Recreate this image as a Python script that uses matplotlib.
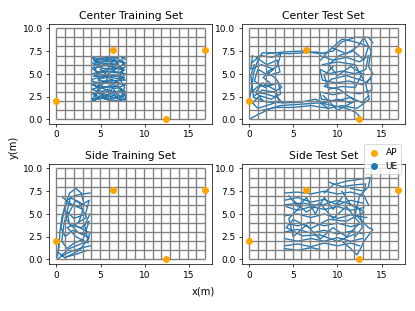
import numpy as np
import matplotlib
matplotlib.use('Agg')
import matplotlib.pyplot as plt

# access points
ap_x = [0.0, 6.4, 12.4, 16.8]
ap_y = [2.0, 7.6, 0.0, 7.6]

# floor grid
grid_x = np.linspace(0, 16.8, 18)
grid_y = np.arange(0, 11)

# UE trajectories (waypoints)
center_train = [
    [(4.0, 2.2), (5.5, 2.6), (7.0, 2.3), (7.8, 2.8), (6.5, 3.1), (5.0, 2.9), (4.0, 3.3), (5.2, 3.6),
     (6.8, 3.4), (7.8, 3.8), (6.0, 4.1), (4.3, 3.9), (4.0, 4.4), (5.5, 4.7), (7.2, 4.4), (7.8, 5.0),
     (6.3, 5.3), (4.8, 5.1), (4.0, 5.6), (5.4, 5.9), (7.0, 5.7), (7.8, 6.2), (6.2, 6.5), (4.6, 6.3),
     (4.0, 6.8), (5.5, 6.6), (7.2, 6.9), (7.8, 6.6)],
    [(4.2, 6.5), (5.5, 5.0), (6.5, 6.6), (7.5, 5.2), (6.8, 4.0), (7.6, 2.6), (6.0, 2.1), (4.5, 3.0),
     (5.8, 4.5), (4.3, 5.4), (5.0, 6.2), (6.6, 6.0), (7.7, 6.8)],
    [(4.0, 2.0), (5.0, 2.4), (6.2, 2.0), (7.8, 2.2), (7.0, 2.7), (5.8, 3.3), (4.2, 2.7), (4.8, 2.2),
     (6.0, 2.8), (7.5, 3.2), (6.5, 3.8), (5.0, 3.4), (4.0, 3.8), (5.6, 4.2), (7.8, 4.3), (6.8, 4.9),
     (5.2, 4.5), (4.1, 5.0), (5.8, 5.5), (7.6, 5.6), (6.5, 6.1), (4.8, 5.8), (4.1, 6.2)],
    [(4.1, 2.3), (4.9, 3.2), (5.6, 2.3), (6.4, 3.5), (7.2, 2.1), (7.7, 3.5), (7.0, 4.7), (7.8, 5.9),
     (6.9, 6.7), (5.9, 6.8), (4.9, 6.7), (4.2, 6.0), (5.0, 4.0), (4.4, 2.5)],
    [(4.0, 2.1), (6.0, 2.5), (7.8, 2.1), (7.8, 2.6), (5.5, 2.2), (4.1, 2.8), (5.9, 3.0), (7.8, 3.0),
     (7.0, 3.6), (4.5, 3.5), (4.2, 4.1), (6.3, 3.9), (7.7, 4.6), (5.8, 4.8), (4.2, 4.7), (5.0, 5.3),
     (7.0, 5.1), (7.7, 5.4), (6.0, 5.8), (4.3, 6.4), (6.0, 6.3), (7.6, 6.4)],
    [(4.3, 2.0), (5.2, 2.8), (6.6, 2.6), (7.4, 2.0), (6.2, 3.0), (4.6, 3.7), (6.2, 4.4), (7.3, 3.9),
     (4.7, 4.3), (6.7, 5.5), (5.2, 5.6), (4.4, 6.6), (6.8, 6.5)],
]

center_test = [
    [(0.2, 0.1), (1.2, 0.6), (2.5, 1.2), (3.5, 1.5), (5.0, 1.6), (6.5, 1.7), (8.0, 1.8), (9.5, 1.5),
     (11.0, 1.2), (12.0, 0.8), (12.5, 0.3)],
    [(0.0, 2.0), (0.3, 3.5), (0.5, 5.0), (1.0, 6.5), (1.5, 7.3), (3.0, 7.3), (4.5, 7.2), (6.0, 7.3),
     (7.5, 7.4), (8.5, 7.2)],
    [(0.8, 6.8), (2.0, 6.0), (3.2, 6.5), (3.5, 5.2), (2.2, 4.8), (1.0, 5.5), (0.6, 4.2), (1.8, 3.5),
     (3.3, 4.0), (3.6, 2.8), (2.5, 2.2), (1.2, 2.6), (0.4, 1.8), (1.0, 1.2), (2.3, 1.6), (3.4, 2.0),
     (3.0, 3.2), (1.5, 4.0), (0.8, 3.0), (1.6, 2.0)],
    [(0.3, 6.2), (1.3, 7.0), (2.6, 6.8), (3.6, 7.2), (3.2, 5.8), (2.0, 5.2), (3.0, 4.5), (3.7, 3.5),
     (2.8, 3.0), (1.5, 3.2), (0.5, 2.5), (0.2, 4.8), (0.6, 6.0)],
    [(0.5, 2.4), (2.0, 1.9), (4.0, 1.8), (6.0, 1.9), (7.5, 2.2), (8.5, 1.8), (10.0, 2.2), (11.5, 1.8)],
    [(1.5, 1.0), (3.0, 1.3), (5.0, 1.3), (7.0, 1.5), (9.0, 1.2)],
    [(2.0, 7.2), (4.0, 7.4), (6.0, 7.5), (8.0, 7.2), (9.5, 7.5), (10.5, 8.5), (12.0, 9.0), (13.5, 9.0),
     (14.0, 8.4)],
    [(8.0, 7.0), (9.5, 6.5), (11.0, 6.8), (12.5, 6.3), (13.5, 7.0), (13.2, 5.5), (12.0, 5.0), (10.5, 5.3),
     (9.0, 5.0), (8.0, 5.5), (8.3, 4.3), (9.8, 4.0), (11.3, 4.2), (12.8, 3.8), (13.8, 4.5), (13.9, 3.2),
     (12.5, 2.8), (11.0, 3.0), (9.5, 2.7), (8.0, 3.0), (8.2, 2.2), (9.8, 2.0), (11.5, 2.4), (12.8, 1.8),
     (13.5, 2.6)],
    [(8.1, 6.5), (9.0, 7.5), (10.5, 8.8), (12.0, 8.5), (13.5, 8.0), (13.0, 6.5), (11.8, 7.5), (10.2, 7.0),
     (9.0, 6.0), (10.0, 4.8), (11.5, 5.8), (12.8, 5.0), (12.0, 3.5), (10.5, 3.6), (9.0, 3.3), (8.5, 4.8),
     (9.5, 5.8)],
    [(9.5, 7.8), (11.0, 7.2), (12.3, 8.0), (13.0, 9.0), (13.8, 7.5), (13.5, 5.8), (14.0, 5.0), (13.2, 3.8),
     (13.6, 2.2), (12.2, 1.2), (10.5, 1.5), (9.0, 1.2), (8.0, 1.8)],
    [(0.4, 7.0), (0.2, 5.5), (1.4, 6.0), (2.8, 5.5), (1.6, 4.6), (2.6, 3.8), (1.0, 3.6), (0.3, 3.0),
     (1.8, 2.8), (3.2, 2.4), (3.8, 1.8)],
    [(8.3, 6.0), (10.0, 6.3), (12.0, 6.0), (13.0, 4.2), (11.0, 4.8), (9.3, 4.4), (8.5, 3.6), (10.2, 3.3),
     (12.0, 2.0), (10.0, 1.0), (8.4, 2.6)],
]

side_train = [
    [(0.2, 0.1), (1.0, 0.6), (2.0, 1.0), (3.0, 1.3), (3.8, 1.5)],
    [(0.1, 0.3), (0.3, 1.5), (0.4, 3.0), (0.6, 4.5), (1.0, 6.0), (1.5, 7.3), (2.2, 7.8), (2.8, 7.3),
     (3.0, 6.5)],
    [(0.5, 0.4), (1.5, 1.2), (2.5, 1.6), (3.5, 2.0), (3.8, 3.0), (2.8, 2.8), (1.8, 3.2), (1.0, 2.5),
     (0.5, 3.5), (0.8, 5.0), (1.2, 6.5), (2.0, 7.0), (3.0, 7.2), (3.8, 7.3)],
    [(1.0, 6.2), (2.5, 5.8), (3.7, 6.5), (3.3, 5.0), (2.0, 4.5), (1.2, 5.2), (1.5, 3.8), (2.8, 3.5),
     (3.7, 4.2), (3.0, 2.2), (2.0, 1.8), (1.2, 1.2), (0.6, 2.0), (0.9, 4.2), (2.2, 6.5), (3.5, 5.8)],
    [(0.7, 6.8), (1.8, 6.0), (3.0, 5.5), (2.5, 4.0), (1.2, 3.5), (2.2, 2.5), (3.6, 1.8), (3.2, 3.8),
     (3.8, 5.0)],
    [(0.3, 2.0), (0.2, 0.8), (0.9, 0.2), (2.3, 0.6), (3.5, 1.0)],
    [(1.2, 0.3), (2.6, 1.0), (3.7, 2.4), (2.4, 3.0), (1.0, 4.5), (1.6, 6.8), (2.6, 6.2), (3.4, 4.6),
     (2.0, 3.8), (3.6, 3.0)],
]

side_test = [
    [(4.0, 7.3), (5.5, 7.4), (7.0, 7.2), (8.5, 7.5), (10.0, 7.2), (11.5, 7.4), (13.0, 7.0), (13.5, 6.0)],
    [(4.0, 6.5), (5.5, 6.8), (7.0, 6.3), (8.5, 6.6), (10.0, 6.0), (11.5, 6.5), (12.8, 6.2)],
    [(13.0, 5.7), (11.5, 5.4), (10.0, 5.8), (8.5, 5.5), (7.0, 5.8), (5.5, 5.4), (4.2, 5.8)],
    [(4.0, 4.8), (5.5, 5.0), (7.0, 4.6), (8.5, 5.0), (10.0, 4.5), (11.5, 4.9), (13.3, 4.6)],
    [(13.0, 4.0), (11.5, 3.6), (10.0, 4.0), (8.5, 3.7), (7.0, 4.1), (5.5, 3.7), (4.0, 4.0)],
    [(4.0, 3.0), (5.5, 3.3), (7.0, 2.9), (8.5, 3.2), (10.0, 2.8), (11.5, 3.1), (13.0, 2.8)],
    [(12.8, 2.3), (11.5, 2.0), (10.0, 2.4), (8.5, 2.0), (7.0, 2.3), (5.5, 2.0), (4.0, 2.3)],
    [(4.0, 1.5), (5.5, 1.7), (7.0, 1.4), (8.5, 1.8), (10.0, 1.5), (11.5, 1.8), (12.5, 1.5)],
    [(4.0, 1.2), (5.5, 1.0), (7.0, 1.3), (8.0, 1.1)],
    [(8.5, 7.3), (9.5, 8.2), (11.0, 8.6), (12.5, 8.8), (13.7, 9.0), (13.5, 8.0), (12.5, 7.0), (12.0, 5.0),
     (13.5, 3.5), (14.0, 3.3), (13.0, 2.0), (12.5, 1.0), (12.2, 0.5), (11.5, 1.2), (10.5, 2.0)],
    [(9.0, 8.5), (10.5, 8.0), (12.0, 8.2), (13.2, 8.3), (13.0, 7.5), (11.5, 7.8)],
    [(5.0, 6.5), (6.5, 5.2), (8.0, 6.2), (9.5, 4.5), (11.0, 5.8), (12.5, 4.0), (11.0, 2.5), (9.5, 3.5),
     (8.0, 2.2), (6.5, 3.8), (5.0, 2.5), (4.5, 4.5), (6.0, 6.0)],
    [(10.5, 7.5), (11.5, 6.0), (12.5, 5.5), (12.8, 3.5), (12.0, 2.5)],
    [(4.5, 7.0), (5.5, 5.8), (6.5, 6.8), (7.5, 5.0), (8.5, 6.8), (9.5, 5.5), (10.5, 6.8)],
    [(4.0, 6.0), (6.0, 6.2), (8.0, 5.9), (10.0, 6.5), (12.0, 5.9), (13.0, 5.2), (11.0, 4.2), (9.0, 4.4),
     (7.0, 3.4), (5.0, 4.4), (4.2, 3.5), (6.0, 2.6), (8.0, 2.7), (10.0, 2.0), (12.0, 2.8)],
]

titles = ['Center Training Set', 'Center Test Set', 'Side Training Set', 'Side Test Set']
sets = [center_train, center_test, side_train, side_test]

fig, axes = plt.subplots(2, 2, figsize=(6.4, 4.8), dpi=64.85)
fig.subplots_adjust(left=0.118, right=0.976, bottom=0.151, top=0.923, wspace=0.178, hspace=0.4)

for ax, title, trajs in zip(axes.flat, titles, sets):
    for tr in trajs:
        xs = [p[0] for p in tr]
        ys = [p[1] for p in tr]
        ax.plot(xs, ys, color='tab:blue', lw=1.5, zorder=1)
    ax.vlines(grid_x, 0, 10, color='gray', lw=1.5, zorder=2)
    ax.hlines(grid_y, 0, 16.8, color='gray', lw=1.5, zorder=2)
    ap = ax.scatter(ap_x, ap_y, color='orange', s=45, zorder=3, label='AP')
    ue = ax.scatter([], [], color='tab:blue', s=45, label='UE')
    ax.set_title(title)
    ax.set_xlim(-0.84, 17.64)
    ax.set_ylim(-0.5, 10.5)
    ax.set_xticks([0, 5, 10, 15])

fig.legend(handles=[ap, ue], loc='upper right', bbox_to_anchor=(0.978, 0.55), fontsize=10,
           handlelength=1.4, handletextpad=0.6, borderpad=0.4, labelspacing=0.5)
fig.text(0.489, 0.064, 'x(m)', ha='center', va='center', fontsize=11)
fig.text(0.033, 0.527, 'y(m)', ha='center', va='center', rotation=90, fontsize=11)

plt.savefig('out.png')
